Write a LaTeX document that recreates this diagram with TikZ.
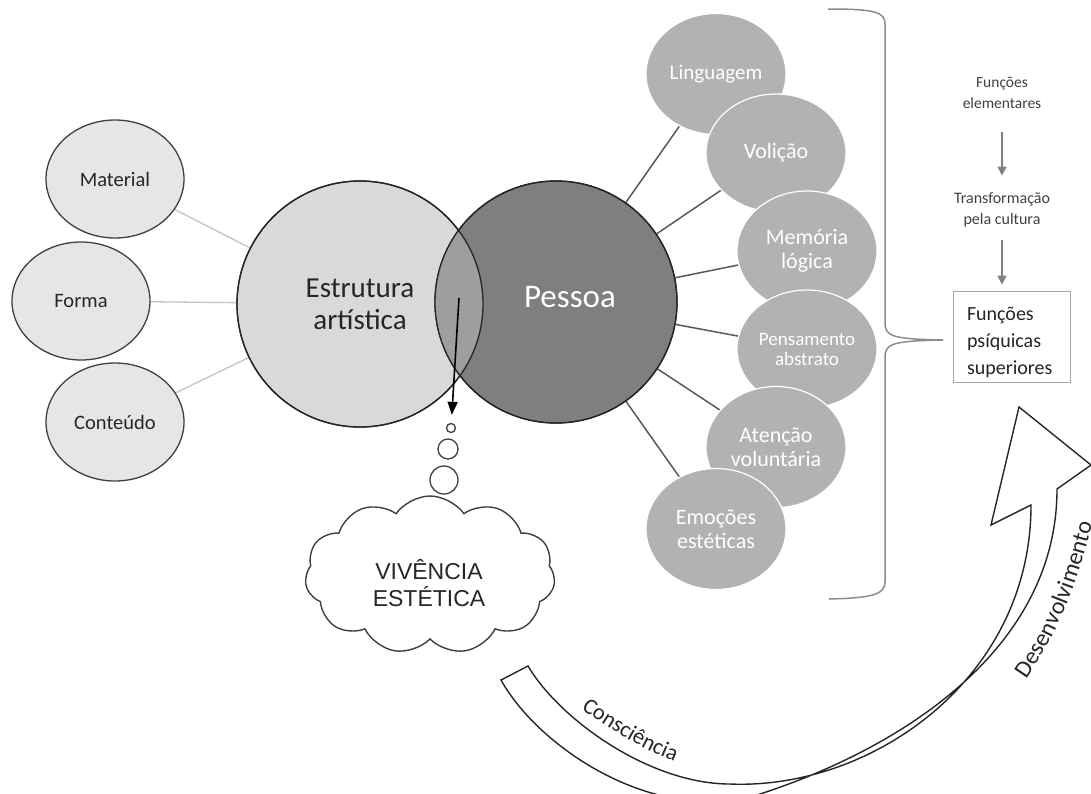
\documentclass[tikz,border=0pt]{standalone}
\usepackage{fontspec}
\setmainfont{Carlito}
\newfontfamily\arialf{Liberation Sans}
\usetikzlibrary{shapes.geometric,shapes.symbols,arrows.meta,decorations.text}
\pgfdeclarelayer{bg}
\pgfsetlayers{bg,main}
\definecolor{leftfill}{HTML}{E6E6E6}
\definecolor{estfill}{HTML}{D9D9D9}
\definecolor{pesfill}{HTML}{7F7F7F}
\definecolor{lensfill}{HTML}{9E9E9E}
\definecolor{bubfill}{HTML}{B2B2B2}
\definecolor{darkline}{HTML}{595959}
\definecolor{lightline}{HTML}{C4C4C4}
\definecolor{bracegray}{HTML}{8C8C8C}
\definecolor{txtgray}{HTML}{404040}
\definecolor{labtxt}{HTML}{262626}
\begin{document}
\begin{tikzpicture}[x=1pt,y=-1pt,
  leftell/.style={ellipse, draw=black!75, line width=1.3pt, fill=leftfill, minimum width=138pt, minimum height=118pt, inner sep=0pt, font=\fontsize{20.5}{24}\selectfont, text=black!85},
  bub/.style={ellipse, draw=white, line width=1.2pt, fill=bubfill, minimum width=140pt, minimum height=121pt, inner sep=0pt, text=white, align=center, font=\fontsize{22}{24}\selectfont},
  bigc/.style={circle, draw=black!85, line width=1.3pt, inner sep=0pt},
  lline/.style={draw=lightline, line width=1.3pt},
  dline/.style={draw=darkline, line width=1.5pt},
  garrow/.style={draw=gray, line width=1.3pt, -{Triangle[length=9pt,width=9pt]}},
  smalltxt/.style={align=center, text=txtgray, font=\fontsize{15.5}{21}\selectfont, inner sep=0pt},
  bubble/.style={circle, draw=black!75, line width=1.3pt, fill=white, inner sep=0pt},
  bigarrow/.style={draw=black!85, line width=1.4pt, fill=white, line join=miter},
]
\useasboundingbox (0,0) rectangle (1091,793);
\clip (0,0) rectangle (1091,793);

% left ellipses
\node[leftell] (mat) at (115,179) {Material};
\node[leftell] (for) at (81,301) {Forma};
\node[leftell] (con) at (115,422) {Conteúdo};

% main circles
\node[bigc, fill=estfill, minimum size=246pt, align=center, font=\fontsize{29}{32}\selectfont, text=black!85] (est) at (360,304) {Estrutura\\artística};
\node[bigc, fill=pesfill, minimum size=242pt] (pes) at (556,302) {};
\begin{scope}
  \clip (360,304) circle[radius=123];
  \fill[lensfill] (556,302) circle[radius=121];
\end{scope}
\draw[black!85, line width=1.3pt] (est.center) circle[radius=123] (pes.center) circle[radius=121];
\node[text=white, font=\fontsize{33}{36}\selectfont] (pesl) at (570,297) {Pessoa};

% right bubbles
\node[bub, font=\fontsize{21}{24}\selectfont] (lin) at (716,74) {Linguagem};
\node[bub, minimum height=118pt] (vol) at (776,153) {Volição};
\node[bub, minimum height=120pt] (mem) at (807,251) {Memória\\lógica};
\node[bub, minimum height=118pt, font=\fontsize{19}{20}\selectfont] (pen) at (807,349) {Pensamento\\abstrato};
\node[bub] (ate) at (776,447) {Atenção\\voluntária};
\node[bub] (emo) at (716,529) {Emoções\\estéticas};

\begin{pgfonlayer}{bg}
  \fill[white] (0,0) rectangle (1091,793);
  \draw[lline] (est) -- (mat);
  \draw[lline] (est) -- (for);
  \draw[lline] (est) -- (con);
  \draw[dline] (pes) -- (lin);
  \draw[dline] (pes) -- (vol);
  \draw[dline] (pes) -- (mem);
  \draw[dline] (pes) -- (pen);
  \draw[dline] (pes) -- (ate);
  \draw[dline] (pes) -- (emo);
\end{pgfonlayer}

% thought bubbles and cloud
\node[bubble, minimum size=9pt] (b1) at (451,428) {};
\node[bubble, minimum size=20pt] (b2) at (448,449) {};
\node[bubble, minimum size=28pt] (b3) at (444,480) {};
\node[cloud, cloud ignores aspect, draw=black!75, line width=1.4pt, cloud puffs=11, cloud puff arc=110, minimum width=250pt, minimum height=158pt] (viv) at (430,575) {};
\node[align=center, font=\arialf\fontsize{23}{27}\selectfont, text=black!85] (vivt) at (429,583) {VIVÊNCIA\\ESTÉTICA};

\coordinate (arrs) at (459,298);
\draw[black, line width=1.6pt, -{Triangle[length=13pt,width=10pt]}, shorten >=8pt] (arrs) -- (b1);

% brace
\draw[bracegray, line width=1.5pt] (828,9) .. controls (875,9) and (885,12) .. (885,24) -- (885,322) .. controls (885,336) and (890,339) .. (943,340) .. controls (890,341) and (885,344) .. (885,358) -- (885,582) .. controls (885,595) and (870,598) .. (829,599);

% right column
\node[smalltxt] (fe) at (1002,93) {Funções\\elementares};
\node[smalltxt, font=\fontsize{16}{21}\selectfont] (tc) at (1002,210) {Transformação\\pela cultura};
\node[draw=gray!70, line width=0.8pt, fill=white, minimum width=117pt, minimum height=91pt, text width=89pt, inner xsep=14pt, align=left, font=\fontsize{20}{27}\selectfont, text=black!85] (fps) at (1011.5,336.5) {\rule{0pt}{26pt}Funções\\psíquicas\\superiores};
\draw[garrow, shorten <=23pt, shorten >=17pt] (fe) -- (tc);
\draw[garrow, shorten <=13pt, shorten >=6pt] (tc) -- (tc |- fps.north);

% big curved arrow
\draw[bigarrow] (501,680) .. controls (540,750) and (660,828) .. (763,793) .. controls (900,748) and (1057,650) .. (1057,489) -- (1091,465) -- (1019,407) -- (991,525) -- (1031,505) .. controls (1031,680) and (870,790) .. (730,784) .. controls (650,784) and (560,720) .. (528,666) -- cycle;
\path[decorate, decoration={text along path, text align=left, text={|\fontsize{22.5}{24}\selectfont\color{labtxt}|Consciência}}] (581,709) .. controls (612,730) and (645,752) .. (684,765);
\path[decorate, decoration={text along path, text align=left, text={|\fontsize{24}{26}\selectfont\color{labtxt}|Desenvolvimento}}] (1026,679) .. controls (1050,645) and (1075,600) .. (1098,500);
\end{tikzpicture}
\end{document}
